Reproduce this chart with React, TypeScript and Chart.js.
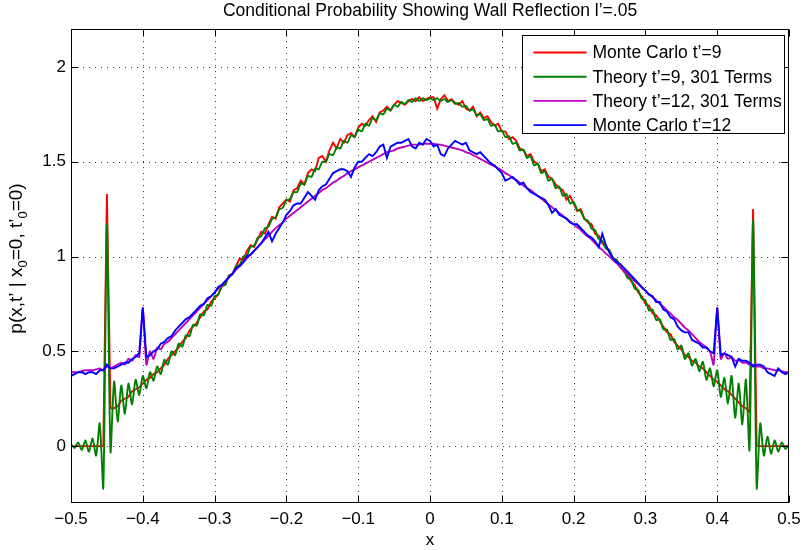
import React, { useEffect, useRef } from 'react';
import { Chart, registerables } from 'chart.js';

Chart.register(...registerables);

const FONT = "'Liberation Sans', Arial, Helvetica, sans-serif";

const titleText = 'Conditional Probability Showing Wall Reflection l\u2019=.05';
const xAxisTitle = 'x';
const xTicks = [-0.5, -0.4, -0.3, -0.2, -0.1, 0, 0.1, 0.2, 0.3, 0.4, 0.5];
const xTickLabels = ['\u22120.5', '\u22120.4', '\u22120.3', '\u22120.2', '\u22120.1', '0', '0.1', '0.2', '0.3', '0.4', '0.5'];
const yTicks = [0, 0.5, 1, 1.5, 2];
const yTickLabels = ['0', '0.5', '1', '1.5', '2'];
const X_MIN = -0.5;
const X_MAX = 0.5;
const Y_MIN = -0.3;
const Y_MAX = 2.2;
// sampling grid of the curves (x positions of the samples)
const SAMPLE_START = -0.5;
const SAMPLE_STEP = 0.005;

const seriesNames = [
  'Monte Carlo t\u2019=9',
  'Theory t\u2019=9, 301 Terms',
  'Theory t\u2019=12, 301 Terms',
  'Monte Carlo t\u2019=12',
];
const seriesColors = ['#ff0000', '#008000', '#bf00bf', '#0000ff'];

const monteCarlo9 = [
  0, 0, 0, 0, 0, 0, 0, 0, 0, 0,
  1.33, 0.20, 0.20, 0.21, 0.24, 0.25, 0.26, 0.29, 0.30, 0.31,
  0.33, 0.35, 0.36, 0.38, 0.39, 0.41, 0.43, 0.46, 0.48, 0.50,
  0.52, 0.55, 0.57, 0.61, 0.63, 0.65, 0.68, 0.71, 0.72, 0.76,
  0.78, 0.80, 0.84, 0.86, 0.90, 0.91, 0.95, 0.99, 0.98, 1.03,
  1.06, 1.05, 1.09, 1.13, 1.12, 1.17, 1.21, 1.20, 1.26, 1.28,
  1.30, 1.29, 1.35, 1.36, 1.40, 1.38, 1.44, 1.46, 1.45, 1.52,
  1.53, 1.50, 1.56, 1.60, 1.57, 1.62, 1.60, 1.64, 1.65, 1.63,
  1.68, 1.70, 1.69, 1.72, 1.74, 1.71, 1.76, 1.77, 1.79, 1.77,
  1.80, 1.82, 1.81, 1.80, 1.82, 1.83, 1.82, 1.84, 1.82, 1.83,
  1.84, 1.84, 1.78, 1.83, 1.85, 1.82, 1.83, 1.81, 1.80, 1.82,
  1.78, 1.77, 1.79, 1.74, 1.76, 1.73, 1.74, 1.71, 1.69, 1.70,
  1.66, 1.66, 1.62, 1.63, 1.61, 1.57, 1.56, 1.53, 1.54, 1.50,
  1.49, 1.45, 1.46, 1.42, 1.41, 1.38, 1.36, 1.35, 1.30, 1.32,
  1.28, 1.24, 1.25, 1.20, 1.18, 1.17, 1.12, 1.11, 1.07, 1.05,
  1.03, 0.99, 0.98, 0.95, 0.92, 0.91, 0.87, 0.85, 0.81, 0.79,
  0.75, 0.74, 0.70, 0.69, 0.66, 0.63, 0.60, 0.59, 0.55, 0.53,
  0.51, 0.48, 0.47, 0.45, 0.44, 0.42, 0.41, 0.39, 0.37, 0.35,
  0.34, 0.32, 0.30, 0.29, 0.27, 0.25, 0.23, 0.21, 0.20, 0.18,
  1.25, 0, 0, 0, 0, 0, 0, 0, 0, 0,
  0,
];

const theory9 = [
  0.01, -0.01, 0.02, -0.02, 0.03, -0.03, 0.04, -0.05, 0.12, -0.22,
  1.17, -0.03, 0.34, 0.13, 0.32, 0.17, 0.33, 0.22, 0.35, 0.27,
  0.37, 0.305, 0.39, 0.345, 0.42, 0.38, 0.455, 0.43, 0.50, 0.48,
  0.54, 0.525, 0.585, 0.58, 0.64, 0.635, 0.695, 0.69, 0.745, 0.74,
  0.79, 0.80, 0.845, 0.85, 0.90, 0.905, 0.95, 0.955, 1.00, 1.005,
  1.05, 1.057, 1.098, 1.107, 1.148, 1.157, 1.198, 1.207, 1.248, 1.257,
  1.298, 1.302, 1.34, 1.34, 1.385, 1.38, 1.425, 1.42, 1.465, 1.46,
  1.50, 1.50, 1.54, 1.535, 1.575, 1.57, 1.61, 1.60, 1.64, 1.63,
  1.67, 1.66, 1.70, 1.69, 1.73, 1.72, 1.755, 1.75, 1.78, 1.77,
  1.80, 1.79, 1.815, 1.805, 1.825, 1.815, 1.835, 1.82, 1.835, 1.825,
  1.835, 1.825, 1.835, 1.82, 1.83, 1.815, 1.825, 1.805, 1.81, 1.79,
  1.795, 1.77, 1.775, 1.745, 1.75, 1.72, 1.725, 1.69, 1.695, 1.66,
  1.665, 1.63, 1.635, 1.595, 1.60, 1.56, 1.565, 1.52, 1.53, 1.48,
  1.49, 1.44, 1.45, 1.40, 1.41, 1.36, 1.37, 1.32, 1.33, 1.28,
  1.288, 1.247, 1.238, 1.197, 1.188, 1.147, 1.138, 1.092, 1.083, 1.042,
  1.033, 0.992, 0.983, 0.942, 0.928, 0.887, 0.878, 0.832, 0.823, 0.777,
  0.77, 0.715, 0.72, 0.665, 0.67, 0.615, 0.615, 0.56, 0.565, 0.51,
  0.53, 0.46, 0.49, 0.425, 0.46, 0.395, 0.445, 0.35, 0.41, 0.315,
  0.40, 0.26, 0.36, 0.225, 0.37, 0.15, 0.33, 0.115, 0.35, -0.02,
  1.19, -0.22, 0.12, -0.05, 0.05, -0.04, 0.03, -0.03, 0.02, -0.015,
  0.01,
];

const theory12 = [
  0.39, 0.39, 0.39, 0.395, 0.40, 0.40, 0.40, 0.405, 0.41, 0.40,
  0.42, 0.41, 0.42, 0.43, 0.44, 0.43, 0.46, 0.45, 0.48, 0.47,
  0.73, 0.43, 0.50, 0.46, 0.52, 0.51, 0.54, 0.55, 0.57, 0.59,
  0.61, 0.63, 0.65, 0.67, 0.69, 0.71, 0.73, 0.75, 0.77, 0.79,
  0.81, 0.83, 0.85, 0.87, 0.89, 0.91, 0.93, 0.95, 0.97, 0.99,
  1.01, 1.03, 1.05, 1.07, 1.09, 1.11, 1.13, 1.15, 1.165, 1.18,
  1.20, 1.215, 1.23, 1.245, 1.26, 1.275, 1.29, 1.305, 1.32, 1.335,
  1.35, 1.36, 1.375, 1.39, 1.40, 1.415, 1.425, 1.44, 1.45, 1.46,
  1.47, 1.48, 1.49, 1.50, 1.51, 1.52, 1.53, 1.54, 1.55, 1.555,
  1.56, 1.57, 1.575, 1.58, 1.585, 1.59, 1.59, 1.59, 1.595, 1.595,
  1.595, 1.595, 1.59, 1.59, 1.585, 1.58, 1.575, 1.57, 1.565, 1.56,
  1.55, 1.545, 1.535, 1.525, 1.515, 1.505, 1.495, 1.485, 1.475, 1.465,
  1.455, 1.44, 1.43, 1.415, 1.405, 1.39, 1.375, 1.36, 1.35, 1.335,
  1.32, 1.305, 1.29, 1.275, 1.26, 1.245, 1.23, 1.215, 1.20, 1.185,
  1.17, 1.155, 1.14, 1.12, 1.105, 1.09, 1.07, 1.05, 1.035, 1.015,
  1.00, 0.98, 0.965, 0.945, 0.925, 0.905, 0.89, 0.87, 0.855, 0.835,
  0.82, 0.80, 0.785, 0.77, 0.75, 0.735, 0.715, 0.70, 0.68, 0.665,
  0.645, 0.625, 0.61, 0.59, 0.57, 0.55, 0.535, 0.52, 0.50, 0.43,
  0.73, 0.46, 0.49, 0.46, 0.47, 0.45, 0.455, 0.44, 0.44, 0.43,
  0.43, 0.42, 0.42, 0.41, 0.41, 0.405, 0.40, 0.40, 0.395, 0.39,
  0.39,
];

const monteCarlo12 = [
  0.37, 0.38, 0.39, 0.39, 0.38, 0.39, 0.39, 0.38, 0.40, 0.40,
  0.43, 0.41, 0.41, 0.42, 0.43, 0.44, 0.44, 0.46, 0.47, 0.49,
  0.73, 0.47, 0.48, 0.50, 0.51, 0.54, 0.55, 0.57, 0.58, 0.61,
  0.63, 0.65, 0.67, 0.68, 0.70, 0.72, 0.74, 0.75, 0.78, 0.79,
  0.81, 0.84, 0.85, 0.87, 0.89, 0.91, 0.94, 0.95, 0.97, 1.00,
  1.01, 1.03, 1.05, 1.07, 1.10, 1.13, 1.08, 1.12, 1.15, 1.18,
  1.22, 1.24, 1.27, 1.28, 1.28, 1.31, 1.34, 1.32, 1.30, 1.35,
  1.37, 1.38, 1.41, 1.44, 1.45, 1.46, 1.46, 1.45, 1.42, 1.47,
  1.50, 1.50, 1.52, 1.54, 1.53, 1.55, 1.58, 1.59, 1.52, 1.58,
  1.59, 1.60, 1.60, 1.61, 1.62, 1.58, 1.57, 1.60, 1.59, 1.62,
  1.61, 1.58, 1.59, 1.54, 1.53, 1.57, 1.59, 1.61, 1.60, 1.59,
  1.60, 1.56, 1.55, 1.54, 1.55, 1.53, 1.51, 1.49, 1.48, 1.46,
  1.44, 1.40, 1.41, 1.42, 1.40, 1.38, 1.39, 1.36, 1.34, 1.33,
  1.32, 1.31, 1.30, 1.27, 1.23, 1.25, 1.22, 1.21, 1.20, 1.18,
  1.17, 1.17, 1.15, 1.13, 1.11, 1.10, 1.08, 1.05, 1.12, 1.06,
  1.02, 0.99, 0.97, 0.96, 0.94, 0.92, 0.90, 0.88, 0.86, 0.84,
  0.82, 0.80, 0.79, 0.76, 0.76, 0.72, 0.71, 0.68, 0.67, 0.63,
  0.61, 0.60, 0.60, 0.56, 0.55, 0.54, 0.52, 0.52, 0.50, 0.49,
  0.73, 0.48, 0.49, 0.48, 0.47, 0.42, 0.46, 0.45, 0.45, 0.44,
  0.42, 0.43, 0.43, 0.42, 0.39, 0.38, 0.37, 0.41, 0.39, 0.38,
  0.39,
];

const seriesValues = [monteCarlo9, theory9, theory12, monteCarlo12];
const seriesTension = [0, 0.25, 0.2, 0];
const LINE_WIDTH = 1.9;

function toPoints(vals: number[]) {
  return vals.map((y, i) => ({ x: +(SAMPLE_START + i * SAMPLE_STEP).toFixed(4), y }));
}

function drawYLabel(ctx: CanvasRenderingContext2D, cx: number, cy: number) {
  const main = `19px ${FONT}`;
  const sub = `13px ${FONT}`;
  const parts: [string, boolean][] = [
    ['p(x,t\u2019 | x', false],
    ['0', true],
    ['=0, t\u2019', false],
    ['0', true],
    ['=0)', false],
  ];
  let total = 0;
  for (const [t, s] of parts) {
    ctx.font = s ? sub : main;
    total += ctx.measureText(t).width;
  }
  ctx.save();
  ctx.translate(cx, cy);
  ctx.rotate(-Math.PI / 2);
  ctx.fillStyle = '#000';
  ctx.textBaseline = 'middle';
  ctx.textAlign = 'left';
  let x = -total / 2;
  for (const [t, s] of parts) {
    ctx.font = s ? sub : main;
    ctx.fillText(t, x, s ? 6 : 0);
    x += ctx.measureText(t).width;
  }
  ctx.restore();
}

const decorPlugin = {
  id: 'decor',
  beforeDatasetsDraw(chart: any) {
    const { ctx, chartArea: a, scales } = chart;
    ctx.save();
    ctx.strokeStyle = '#3a3a3a';
    ctx.lineWidth = 1;
    ctx.setLineDash([1, 5]);
    for (const v of xTicks) {
      const px = Math.round(scales.x.getPixelForValue(v)) + 0.5;
      if (px <= a.left + 2 || px >= a.right - 2) continue;
      ctx.beginPath();
      ctx.moveTo(px, a.top);
      ctx.lineTo(px, a.bottom);
      ctx.stroke();
    }
    for (const v of yTicks) {
      const py = Math.round(scales.y.getPixelForValue(v)) + 0.5;
      if (py <= a.top + 2 || py >= a.bottom - 2) continue;
      ctx.beginPath();
      ctx.moveTo(a.left, py);
      ctx.lineTo(a.right, py);
      ctx.stroke();
    }
    ctx.restore();
  },
  afterDatasetsDraw(chart: any) {
    const { ctx, chartArea: a, scales } = chart;
    ctx.save();
    // frame
    ctx.strokeStyle = '#000';
    ctx.lineWidth = 1;
    ctx.setLineDash([]);
    const L = Math.round(a.left) + 0.5;
    const R = Math.round(a.right) - 0.5;
    const T = Math.round(a.top) + 0.5;
    const B = Math.round(a.bottom) - 0.5;
    ctx.strokeRect(L, T, R - L, B - T);
    // inward tick marks on all four sides
    const tl = 7;
    ctx.beginPath();
    for (const v of xTicks) {
      const px = Math.round(scales.x.getPixelForValue(v)) + 0.5;
      ctx.moveTo(px, B);
      ctx.lineTo(px, B - tl);
      ctx.moveTo(px, T);
      ctx.lineTo(px, T + tl);
    }
    for (const v of yTicks) {
      const py = Math.round(scales.y.getPixelForValue(v)) + 0.5;
      ctx.moveTo(L, py);
      ctx.lineTo(L + tl, py);
      ctx.moveTo(R, py);
      ctx.lineTo(R - tl, py);
    }
    ctx.stroke();

    // legend
    const boxR = Math.round(a.right) - 4.5;
    const boxL = boxR - 262;
    const boxT = Math.round(a.top) + 6.5;
    const boxH = 98;
    ctx.fillStyle = '#fff';
    ctx.fillRect(boxL, boxT, boxR - boxL, boxH);
    ctx.strokeStyle = '#000';
    ctx.lineWidth = 1;
    ctx.strokeRect(boxL, boxT, boxR - boxL, boxH);
    ctx.font = `17.5px ${FONT}`;
    ctx.textBaseline = 'middle';
    ctx.textAlign = 'left';
    seriesNames.forEach((name, i) => {
      const y = boxT + 17 + i * 24.2;
      ctx.strokeStyle = seriesColors[i];
      ctx.lineWidth = LINE_WIDTH;
      ctx.beginPath();
      ctx.moveTo(boxL + 11, y);
      ctx.lineTo(boxL + 64, y);
      ctx.stroke();
      ctx.fillStyle = '#000';
      ctx.fillText(name, boxL + 70, y + 1);
    });

    // title
    const cx = (a.left + a.right) / 2;
    ctx.fillStyle = '#000';
    ctx.font = `17.5px ${FONT}`;
    ctx.textAlign = 'center';
    ctx.textBaseline = 'middle';
    ctx.fillText(titleText, cx, 11);
    // x axis title
    ctx.font = `17px ${FONT}`;
    ctx.fillText(xAxisTitle, cx, a.bottom + 37);
    // y axis title
    drawYLabel(ctx, 17, 258.5);
    ctx.restore();
  },
};

export default function App() {
  const canvasRef = useRef<HTMLCanvasElement | null>(null);

  useEffect(() => {
    const canvas = canvasRef.current;
    if (!canvas) return;
    const chart = new Chart(canvas, {
      type: 'line',
      data: {
        datasets: seriesValues.map((vals, i) => ({
          label: seriesNames[i],
          data: toPoints(vals),
          borderColor: seriesColors[i],
          backgroundColor: seriesColors[i],
          borderWidth: LINE_WIDTH,
          pointRadius: 0,
          tension: seriesTension[i],
          fill: false,
          order: 4 - i,
        })),
      },
      options: {
        animation: false,
        responsive: false,
        devicePixelRatio: 1,
        layout: { padding: { top: 29, right: 12, left: 0, bottom: 0 } },
        plugins: {
          legend: { display: false },
          title: { display: false },
          tooltip: { enabled: false },
        },
        events: [],
        scales: {
          x: {
            type: 'linear',
            min: X_MIN,
            max: X_MAX,
            afterBuildTicks: (s: any) => {
              s.ticks = xTicks.map((v) => ({ value: v }));
            },
            afterFit: (s: any) => {
              s.height = 47;
              s.paddingLeft = 0;
              s.paddingRight = 0;
            },
            grid: { display: false, drawTicks: false },
            border: { display: false },
            ticks: {
              color: '#000',
              padding: 6,
              maxRotation: 0,
              autoSkip: false,
              font: { family: FONT, size: 17 },
              callback: (_v: any, i: number) => xTickLabels[i],
            },
          },
          y: {
            type: 'linear',
            min: Y_MIN,
            max: Y_MAX,
            afterBuildTicks: (s: any) => {
              s.ticks = yTicks.map((v) => ({ value: v }));
            },
            afterFit: (s: any) => {
              s.width = 71;
              s.paddingTop = 0;
              s.paddingBottom = 0;
            },
            grid: { display: false, drawTicks: false },
            border: { display: false },
            ticks: {
              color: '#000',
              padding: 5,
              autoSkip: false,
              font: { family: FONT, size: 17 },
              callback: (_v: any, i: number) => yTickLabels[i],
            },
          },
        },
      },
      plugins: [decorPlugin],
    });
    return () => chart.destroy();
  }, []);

  return (
    <div style={{ position: 'absolute', left: 0, top: 0, width: 801, height: 550, background: '#fff' }}>
      <canvas ref={canvasRef} width={801} height={550} style={{ display: 'block' }} />
    </div>
  );
}
